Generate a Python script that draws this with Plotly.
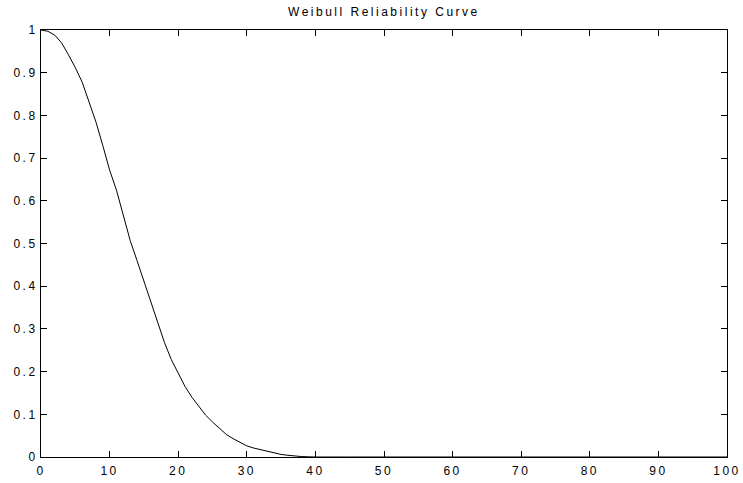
import plotly.graph_objects as go

# Time values and reliability readings
t_values = list(range(0, 41)) + [45, 50, 60, 70, 80, 90, 100]
reliability = [1.000, 0.997, 0.988, 0.970, 0.942, 0.912, 0.878, 0.834, 0.785, 0.730,
               0.672, 0.625, 0.567, 0.507, 0.460, 0.412, 0.360, 0.313, 0.268, 0.228,
               0.195, 0.165, 0.140, 0.118, 0.098, 0.082, 0.067, 0.053, 0.043, 0.034,
               0.026, 0.021, 0.017, 0.013, 0.009, 0.006, 0.004, 0.002, 0.001, 0.0005,
               0.0, 0.0, 0.0, 0.0, 0.0, 0.0, 0.0, 0.0]
x_ticks = [0, 10, 20, 30, 40, 50, 60, 70, 80, 90, 100]
y_ticks = [0, 0.1, 0.2, 0.3, 0.4, 0.5, 0.6, 0.7, 0.8, 0.9, 1]
y_tick_text = ["0", "0.1", "0.2", "0.3", "0.4", "0.5", "0.6", "0.7", "0.8", "0.9", "1"]
title_text = "Weibull Reliability Curve"

fig = go.Figure()
fig.add_trace(go.Scatter(x=t_values, y=reliability, mode="lines",
                         line=dict(color="black", width=1), showlegend=False))

axis_common = dict(showgrid=False, zeroline=False, showline=True, linecolor="black",
                   linewidth=1, mirror="ticks", ticks="inside", ticklen=6,
                   tickcolor="black", tickwidth=1, automargin=False,
                   tickfont=dict(family="Liberation Sans, Arial", size=12, color="black"))

fig.update_layout(
    template="none",
    width=743, height=483,
    margin=dict(l=41, r=16, t=30, b=26, pad=0),
    paper_bgcolor="white", plot_bgcolor="white",
    title=dict(text=title_text, x=0.5167, xanchor="center", y=0.984, yanchor="top",
               font=dict(family="Liberation Sans, Arial", size=12, color="black")),
    xaxis=dict(range=[0, 100], tickvals=x_ticks, ticklabelstandoff=3, **axis_common),
    yaxis=dict(range=[0, 1], tickvals=y_ticks, ticktext=y_tick_text, **axis_common),
)

post = """
document.body.style.margin='0';
document.body.style.padding='0';
var st=document.createElement('style');
st.innerHTML='.xtick text, .ytick text {letter-spacing:2.5px;} .gtitle {letter-spacing:2.5px;}';
document.head.appendChild(st);
"""
fig.write_html("out.html", post_script=post, config={"displayModeBar": False})
